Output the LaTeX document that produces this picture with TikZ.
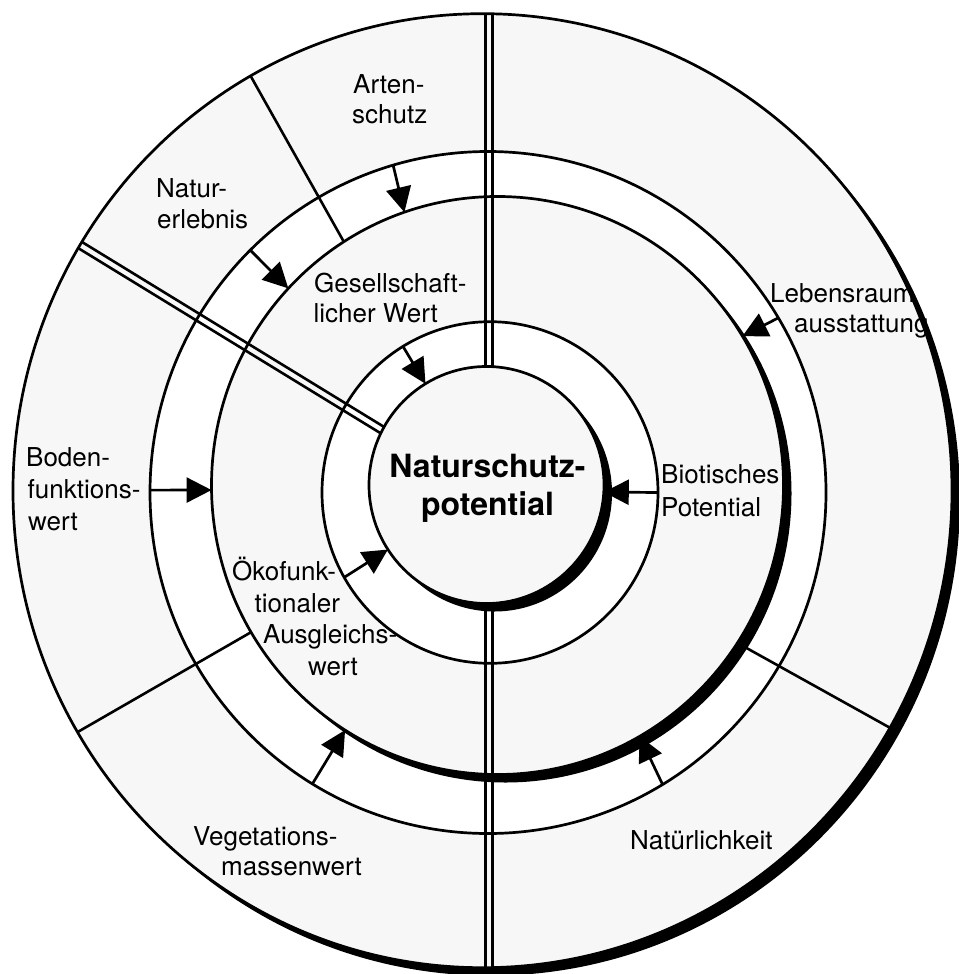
\documentclass[tikz,border=0pt]{standalone}
\usepackage{fontspec}
\setmainfont{TeX Gyre Heros}
\usetikzlibrary{calc,arrows.meta}
\definecolor{tint}{gray}{0.968}
\begin{document}
\begin{tikzpicture}[x=1pt,y=-1pt,
  ringline/.style={line width=2.7pt},
  segline/.style={line width=2.6pt},
  arr/.style={line width=2.7pt,-{Triangle[length=25pt,width=25pt]}},
  lbl/.style={font=\fontsize{26}{31}\selectfont,inner sep=0pt,anchor=base west},
  core/.style={font=\bfseries\fontsize{32}{38}\selectfont,inner sep=0pt,anchor=base},
]
\useasboundingbox (0,0) rectangle (958,974);
\fill[white] (0,0) rectangle (958,974);

% centres of the rings
\coordinate (CO) at (482.5,490.7);
\coordinate (C4) at (488,492.5);
\coordinate (C3) at (497.5,485.5);
\coordinate (C2) at (490,492.5);
\coordinate (C1) at (486.5,485);

% fills and shadows
\fill[black] ([shift={(8,8)}]CO) ellipse[x radius=469.5,y radius=477];
\fill[tint] (CO) ellipse[x radius=469.5,y radius=477];
\fill[white] (C4) ellipse[x radius=338,y radius=341];
\fill[black] ([shift={(8,8)}]C3) ellipse[x radius=286,y radius=289];
\fill[tint] (C3) ellipse[x radius=286,y radius=289];
\fill[white] (C2) ellipse[x radius=168,y radius=170.8];
\fill[black] ([shift={(8,8)}]C1) ellipse[x radius=117.5,y radius=118.5];
\fill[tint] (C1) ellipse[x radius=117.5,y radius=118.5];

% radial single lines
\coordinate (l1a) at ($(C3)+(-122.5:286 and 289)$);
\coordinate (l1b) at ($(CO)+(-119.6:469.5 and 477)$);
\coordinate (l2a) at ($(C3)+(-210.5:286 and 289)$);
\coordinate (l2b) at ($(CO)+(-210.4:469.5 and 477)$);
\coordinate (l3a) at ($(C3)+(33:286 and 289)$);
\coordinate (l3b) at ($(CO)+(29.8:469.5 and 477)$);
\draw[segline] (l1a) -- (l1b);
\draw[segline] (l2a) -- (l2b);
\draw[segline] (l3a) -- (l3b);

% vertical double line
\coordinate (vt) at (489,13.7);
\coordinate (vu) at (489,366.5);
\coordinate (vd) at (489,603.5);
\coordinate (vb) at (489,967.7);
\draw[segline] ([xshift=-3.6pt]vt) -- ([xshift=-3.6pt]vu);
\draw[segline] ([xshift=3.6pt]vt) -- ([xshift=3.6pt]vu);
\draw[segline] ([xshift=-3.6pt]vd) -- ([xshift=-3.6pt]vb);
\draw[segline] ([xshift=3.6pt]vd) -- ([xshift=3.6pt]vb);

% diagonal double line
\coordinate (da) at ($(CO)+(-149:469.5 and 477)$);
\coordinate (db) at ($(C1)+(-152.4:117.5 and 118.5)$);
\draw[segline] ($(da)!3.6pt!90:(db)$) -- ($(db)!3.6pt!-90:(da)$);
\draw[segline] ($(da)!3.6pt!-90:(db)$) -- ($(db)!3.6pt!90:(da)$);

% ring outlines
\draw[ringline] (CO) ellipse[x radius=469.5,y radius=477];
\draw[ringline] (C4) ellipse[x radius=338,y radius=341];
\draw[ringline] (C3) ellipse[x radius=286,y radius=289];
\draw[ringline] (C2) ellipse[x radius=168,y radius=170.8];
\draw[ringline] (C1) ellipse[x radius=117.5,y radius=118.5];

% arrow end points
\coordinate (a1s) at ($(C4)+(-106.3:338 and 341)$);
\coordinate (a1e) at ($(C3)+(-109:286 and 289)$);
\coordinate (a2s) at ($(C4)+(-134.7:338 and 341)$);
\coordinate (a2e) at ($(C3)+(-137:286 and 289)$);
\coordinate (a3s) at ($(C4)+(-179.6:338 and 341)$);
\coordinate (a3e) at ($(C3)+(-180.9:286 and 289)$);
\coordinate (a4s) at ($(C4)+(-238.7:338 and 341)$);
\coordinate (a4e) at ($(C3)+(-237.8:286 and 289)$);
\coordinate (a5s) at ($(C4)+(58.9:338 and 341)$);
\coordinate (a5e) at ($(C3)+(60.2:286 and 289)$);
\coordinate (a6s) at ($(C4)+(-30.8:338 and 341)$);
\coordinate (a6e) at ($(C3)+(-31.1:286 and 289)$);
\coordinate (a7s) at ($(C2)+(-121.2:168 and 170.8)$);
\coordinate (a7e) at ($(C1)+(-121.3:117.5 and 118.5)$);
\coordinate (a8s) at ($(C2)+(-209.8:168 and 170.8)$);
\coordinate (a8e) at ($(C1)+(-213:117.5 and 118.5)$);
\coordinate (a9s) at ($(C2)+(0:168 and 170.8)$);
\coordinate (a9e) at ($(C1)+(3.4:117.5 and 118.5)$);
\draw[arr] (a1s) -- (a1e);
\draw[arr] (a2s) -- (a2e);
\draw[arr] (a3s) -- (a3e);
\draw[arr] (a4s) -- (a4e);
\draw[arr] (a5s) -- (a5e);
\draw[arr] (a6s) -- (a6e);
\draw[arr] (a7s) -- (a7e);
\draw[arr] (a8s) -- (a8e);
\draw[arr] (a9s) -- (a9e);

% labels
\node[lbl] (t1a) at (353,93) {Arten-};
\node[lbl] (t1b) at (352,123.5) {schutz};
\node[lbl] (t2a) at (156,197) {Natur-};
\node[lbl] (t2b) at (157,228.5) {erlebnis};
\node[lbl] (t3a) at (314,292) {Gesellschaft-};
\node[lbl] (t3b) at (313.5,322) {licher Wert};
\node[lbl] (t4a) at (26,466) {Boden-};
\node[lbl] (t4b) at (27.5,498) {funktions-};
\node[lbl] (t4c) at (28,530) {wert};
\node[lbl] (t5a) at (232,580) {Ökofunk-};
\node[lbl] (t5b) at (254.5,612) {tionaler};
\node[lbl] (t5c) at (263,643) {Ausgleichs-};
\node[lbl] (t5d) at (308,675) {wert};
\node[lbl] (t6a) at (193,845) {Vegetations-};
\node[lbl] (t6b) at (221,875) {massenwert};
\node[lbl] (t7) at (630,849) {Natürlichkeit};
\node[lbl] (t8a) at (770,302) {Lebensraum};
\node[lbl] (t8b) at (794,332.5) {ausstattung};
\node[lbl] (t9a) at (661,483) {Biotisches};
\node[lbl] (t9b) at (661,516) {Potential};
\node[core] (c0a) at (487.5,477) {Naturschutz-};
\node[core] (c0b) at (487.5,515) {potential};
\end{tikzpicture}
\end{document}
